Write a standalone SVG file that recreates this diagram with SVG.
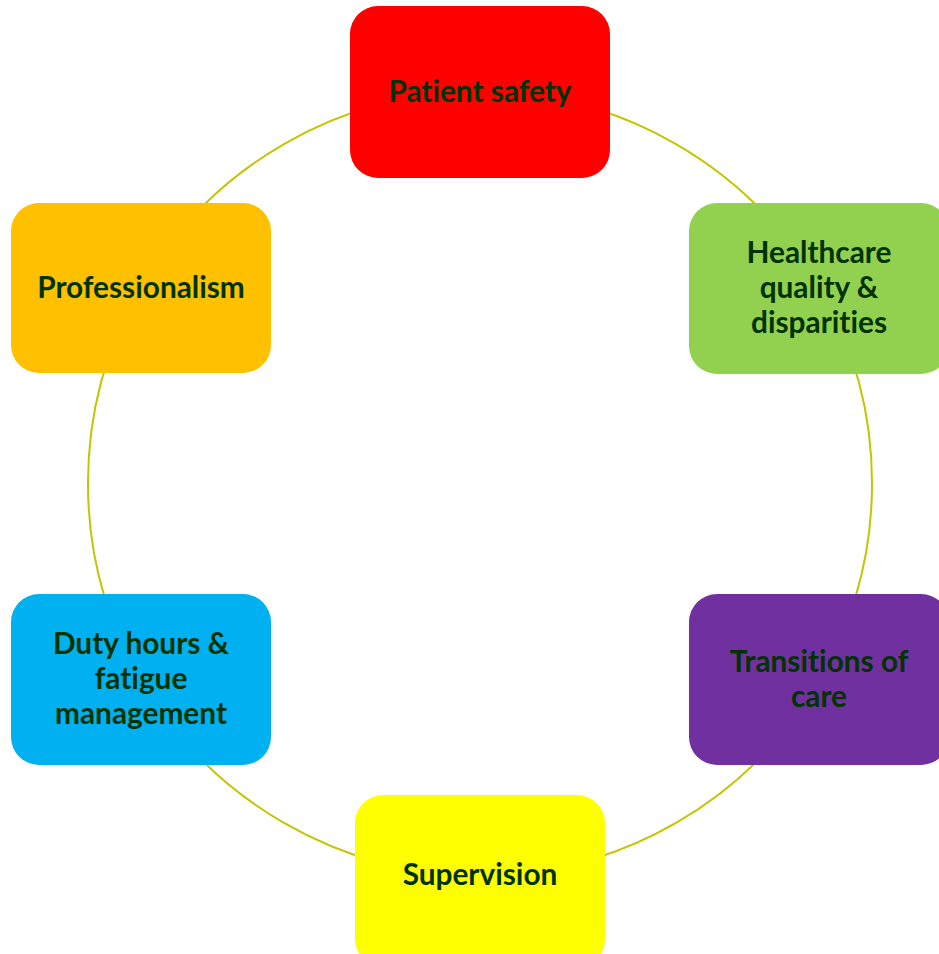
<svg xmlns="http://www.w3.org/2000/svg" width="939" height="954" viewBox="0 0 939 954">
<style>
.arc{fill:none;stroke:#C4C400;stroke-width:2}
.box{stroke:none}
.lbl{font-family:Lato,"Open Sans","Liberation Sans",sans-serif;font-weight:bold;font-size:29.8px;fill:#003300;text-anchor:middle;font-variant-ligatures:none}
</style>
<rect width="939" height="954" fill="#FFFFFF"/>
<g id="connectors">
<path class="arc" d="M480,91.5 A392,392 0 0 1 819.5,287.5"/>
<path class="arc" d="M819.5,287.5 A392,392 0 0 1 819.5,679.5"/>
<path class="arc" d="M819.5,679.5 A392,392 0 0 1 480,875.5"/>
<path class="arc" d="M480,875.5 A392,392 0 0 1 140.5,679.5"/>
<path class="arc" d="M140.5,679.5 A392,392 0 0 1 140.5,287.5"/>
<path class="arc" d="M140.5,287.5 A392,392 0 0 1 480,91.5"/>
</g>
<g id="patient-safety">
<rect class="box" x="350" y="6" width="260" height="172" rx="28" fill="#FF0000"/>
<text class="lbl" x="480" y="102">Patient safety</text>
</g>
<g id="healthcare-quality">
<rect class="box" x="689" y="203" width="260" height="171" rx="28" fill="#92D050"/>
<text class="lbl" x="819" y="263">Healthcare</text>
<text class="lbl" x="819" y="298">quality &amp;</text>
<text class="lbl" x="819" y="333">disparities</text>
</g>
<g id="transitions-of-care">
<rect class="box" x="689" y="594" width="260" height="171" rx="28" fill="#7030A0"/>
<text class="lbl" x="819" y="672">Transitions of</text>
<text class="lbl" x="819" y="707">care</text>
</g>
<g id="supervision">
<rect class="box" x="355" y="795" width="250" height="172" rx="28" fill="#FFFF00"/>
<text class="lbl" x="480" y="885">Supervision</text>
</g>
<g id="duty-hours">
<rect class="box" x="11" y="594" width="260" height="171" rx="28" fill="#00B0F0"/>
<text class="lbl" x="141" y="654">Duty hours &amp;</text>
<text class="lbl" x="141" y="689">fatigue</text>
<text class="lbl" x="141" y="724">management</text>
</g>
<g id="professionalism">
<rect class="box" x="11" y="203" width="260" height="170" rx="28" fill="#FFC000"/>
<text class="lbl" x="141" y="298">Professionalism</text>
</g>
</svg>
